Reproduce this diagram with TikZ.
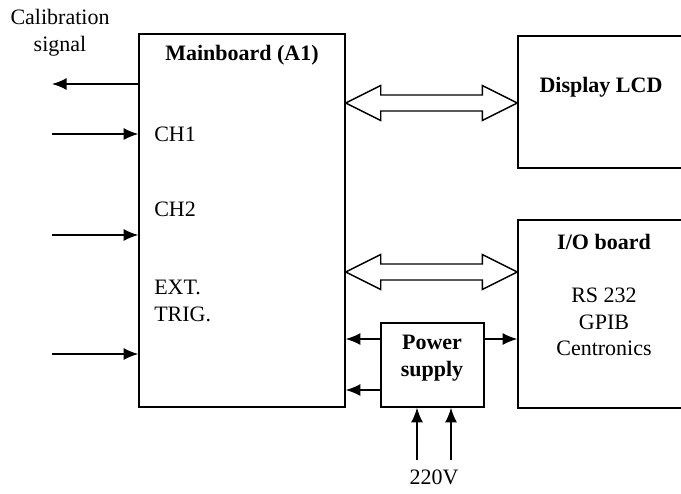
\documentclass[tikz,border=0pt]{standalone}
\usepackage{fontspec}
\setmainfont{Liberation Serif}
\usetikzlibrary{arrows.meta,calc}

\begin{document}
\begin{tikzpicture}[
    x=0.75pt, y=-0.75pt,
    font=\fontsize{16.5}{20}\selectfont,
    box/.style={draw, line width=1.1pt, rectangle, inner sep=0pt},
    lbl/.style={align=center, inner sep=0pt},
    sig/.style={-{Latex[length=11pt,width=9pt]}, line width=1.1pt},
    bus/.style={draw, line width=1.1pt, fill=white, line join=miter},
  ]
    \useasboundingbox (0,0) rectangle (681,493);

    \node[box, minimum width=154.5pt, minimum height=279.75pt] (main) at (242,220.5) {};
    \node[box, minimum width=136.5pt, minimum height=99pt] (lcd) at (609,102) {};
    \node[box, minimum width=136.5pt, minimum height=141pt] (io) at (609,314) {};
    \node[box, minimum width=77.25pt, minimum height=63pt] (psu) at (432.5,365) {};

    \node[lbl, font=\fontsize{16.5}{20}\selectfont\bfseries] (mainlbl) at (242,55) {Mainboard (A1)};
    \node[lbl] (calib) at (60,33) {Calibration\\signal};
    \node[lbl, anchor=west] (ch1) at (154,134) {CH1};
    \node[lbl, anchor=west] (ch2) at (154,209) {CH2};
    \node[lbl, anchor=west, align=left] (ext) at (154,301) {EXT.\\TRIG.};
    \node[lbl, font=\fontsize{16.5}{20}\selectfont\bfseries] (lcdlbl) at (601,87) {Display LCD};
    \node[lbl, font=\fontsize{16.5}{20}\selectfont\bfseries] (iolbl) at (604,242) {I/O board};
    \node[lbl] (iotxt) at (604,322) {RS 232\\GPIB\\Centronics};
    \node[lbl, font=\fontsize{16.5}{20}\selectfont\bfseries] (psulbl) at (432,358) {Power\\supply};
    \node[lbl] (volt) at (434,477) {220V};

    \coordinate (calout) at (52,84);
    \coordinate (in1) at (52,134);
    \coordinate (in2) at (52,235);
    \coordinate (in3) at (52,354);
    \coordinate (ac1) at (417,460);
    \coordinate (ac2) at (451,460);

    % signals on the left
    \draw[sig] (main.west |- calout) -- (calout);
    \foreach \c in {in1,in2,in3}
      \draw[sig] (\c) -- (main.west |- \c);

    % buses
    \foreach \y/\dev in {103/lcd, 272/io} {
      \draw[bus] (main.east |- 0,\y) -- ++(35,-17.5) -- ++(0,9.5)
        -- ($(\dev.west |- 0,\y)+(-35,-8)$) -- ++(0,-9.5) -- (\dev.west |- 0,\y)
        -- ++(-35,17.5) -- ++(0,-9.5) -- ($(main.east |- 0,\y)+(35,8)$)
        -- ++(0,9.5) -- cycle;
    }

    % power
    \draw[sig] (psu.west |- 0,339) -- (main.east |- 0,339);
    \draw[sig] (psu.west |- 0,390) -- (main.east |- 0,390);
    \draw[sig] (psu.east |- 0,339) -- (io.west |- 0,339);
    \draw[sig] (ac1) -- (ac1 |- psu.south);
    \draw[sig] (ac2) -- (ac2 |- psu.south);
  \end{tikzpicture}
\end{document}
